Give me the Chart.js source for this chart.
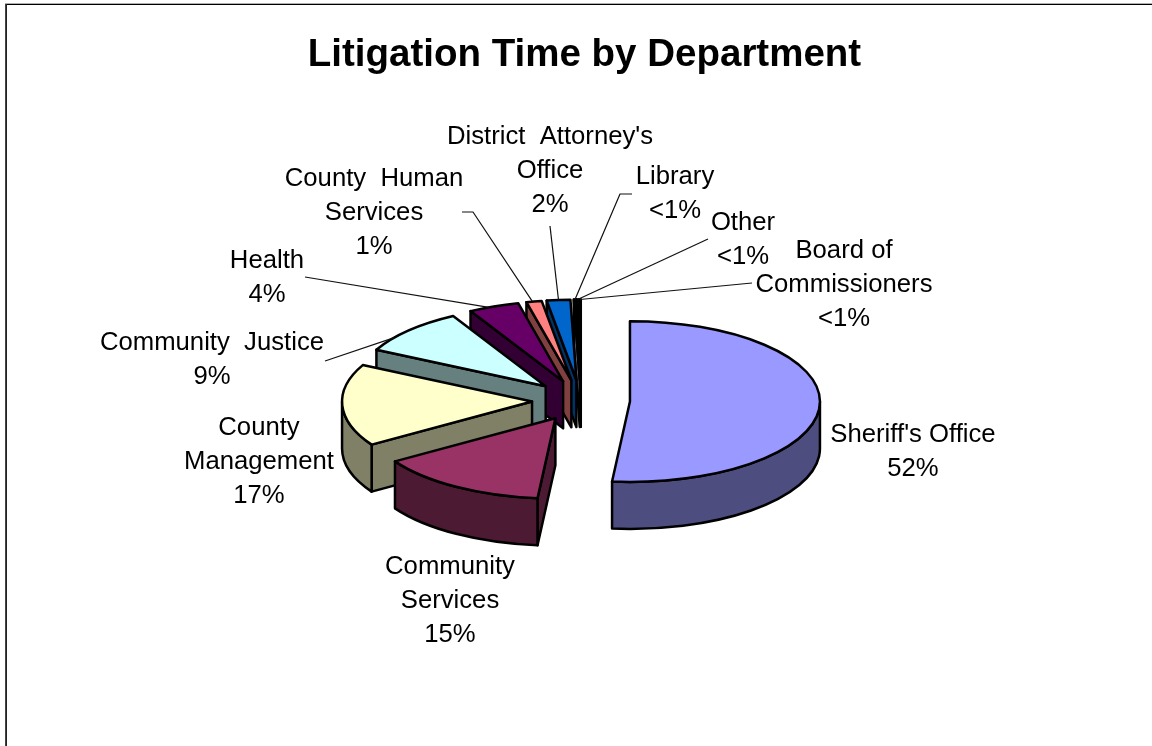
<!DOCTYPE html>
<html>
<head>
<meta charset="utf-8">
<title>Litigation Time by Department</title>
<script src="https://cdn.jsdelivr.net/npm/chart.js@4"></script>
<style>
html, body { margin: 0; padding: 0; background: #fff; overflow: hidden; }
canvas { display: block; }
</style>
</head>
<body>
<canvas id="pieChart" width="1152" height="746"></canvas>
<script>
var departments = ['Sheriff\'s Office', 'Community Services', 'County Management', 'Community Justice', 'Health', 'County Human Services', 'District Attorney\'s Office', 'Library', 'Other', 'Board of Commissioners'];
var shares = [51.5, 14.5, 16.5, 9.4, 4.3, 1.3, 2.0, 0.2, 0.15, 0.15];
var shareLabels = ['52%', '15%', '17%', '9%', '4%', '1%', '2%', '<1%', '<1%', '<1%'];
var topColors = ['#9999ff', '#993366', '#ffffcc', '#ccffff', '#660066', '#ff8080', '#0066cc', '#ccccff', '#000080', '#ff00ff'];
var sideColors = ['#4d4d80', '#4d1a33', '#808066', '#668080', '#330033', '#804040', '#003366', '#666680', '#000040', '#800080'];

// how each department name wraps on the page
var nameLines = [['Sheriff\'s Office'], ['Community', 'Services'], ['County', 'Management'], ['Community  Justice'], ['Health'], ['County  Human', 'Services'], ['District  Attorney\'s', 'Office'], ['Library'], ['Other'], ['Board of', 'Commissioners']];
var labelCenters = [913, 450, 259, 212, 267, 374, 550, 675, 743, 844];
var labelBaselines = [442, 574, 435, 350, 268, 186, 144, 184, 230, 258];
// where the leader leaves each label, null when there is none
var leaderStarts = [null, null, null, [[325, 361]], [[305, 277]], [[462, 212], [473, 212]], [[550, 226]], [[632, 194], [620, 194]], [[708, 239]], [[752, 283]]];
// where it lands along the rim of the slice, 0 = start of the slice, 1 = end
var leaderAt = [0, 0, 0, 0.3, 0.4, 0.4, 0.5, 0.5, 0.5, 0.5];

var pieShiftX = -3.5;
var explode = 49;
var squash = 0.423;
var depth = 47;

function apexOf(arc) {
    var mid = (arc.startAngle + arc.endAngle) / 2;
    return {
        x: arc.x + pieShiftX + Math.cos(mid) * explode,
        y: arc.y + Math.sin(mid) * explode * squash
    };
}

function drawQuad(ctx, apex, arc, angle, fill) {
    var px = apex.x + Math.cos(angle) * arc.outerRadius;
    var py = apex.y + Math.sin(angle) * arc.outerRadius * squash;
    ctx.beginPath();
    ctx.moveTo(apex.x, apex.y);
    ctx.lineTo(px, py);
    ctx.lineTo(px, py + depth);
    ctx.lineTo(apex.x, apex.y + depth);
    ctx.closePath();
    ctx.fillStyle = fill;
    ctx.fill();
    ctx.stroke();
}

function drawSlice(ctx, arc, i) {
    var apex = apexOf(arc);
    var r = arc.outerRadius;
    var a = arc.startAngle;
    var b = arc.endAngle;

    ctx.lineWidth = 2.5;
    ctx.lineJoin = 'round';
    ctx.strokeStyle = '#000';

    if (Math.cos(a) < 0) drawQuad(ctx, apex, arc, a, sideColors[i]);
    if (Math.cos(b) > 0) drawQuad(ctx, apex, arc, b, sideColors[i]);

    // curved wall, only the part that faces the viewer
    var from = Math.max(a, 0);
    var to = Math.min(b, Math.PI);
    if (to > from) {
        ctx.beginPath();
        ctx.ellipse(apex.x, apex.y, r, r * squash, 0, from, to);
        ctx.ellipse(apex.x, apex.y + depth, r, r * squash, 0, to, from, true);
        ctx.closePath();
        ctx.fillStyle = sideColors[i];
        ctx.fill();
        ctx.stroke();
    }

    // top face goes through the arc element, squeezed into an ellipse
    ctx.save();
    ctx.translate(apex.x, apex.y);
    ctx.scale(1, squash);
    ctx.translate(-arc.x, -arc.y);
    arc.draw(ctx);
    ctx.restore();

    ctx.beginPath();
    ctx.moveTo(apex.x, apex.y);
    ctx.ellipse(apex.x, apex.y, r, r * squash, 0, a, b);
    ctx.closePath();
    ctx.stroke();
}

function drawLabels(chart) {
    var ctx = chart.ctx;
    var arcs = chart.getDatasetMeta(0).data;
    ctx.save();
    ctx.font = '25.7px "Liberation Sans"';
    ctx.textAlign = 'center';
    ctx.fillStyle = '#000';
    ctx.strokeStyle = '#111';
    ctx.lineWidth = 1.2;
    departments.forEach(function(name, i) {
        var lines = nameLines[i].concat([shareLabels[i]]);
        lines.forEach(function(line, n) {
            ctx.fillText(line, labelCenters[i], labelBaselines[i] + n * 34);
        });
        if (!leaderStarts[i]) return;
        var arc = arcs[i];
        var apex = apexOf(arc);
        var at = arc.startAngle + (arc.endAngle - arc.startAngle) * leaderAt[i];
        ctx.beginPath();
        leaderStarts[i].forEach(function(p, n) {
            if (n === 0) ctx.moveTo(p[0], p[1]);
            else ctx.lineTo(p[0], p[1]);
        });
        ctx.lineTo(apex.x + Math.cos(at) * arc.outerRadius, apex.y + Math.sin(at) * arc.outerRadius * squash);
        ctx.stroke();
    });
    ctx.restore();
}

var explodedPie = {
    id: 'explodedPie',
    beforeDraw: function(chart) {
        var ctx = chart.ctx;
        // chart frame, open on the right and at the bottom
        ctx.fillStyle = '#b0b0b0';
        ctx.fillRect(5, 3, 1147, 1);
        ctx.fillStyle = '#000';
        ctx.fillRect(6, 4, 1146, 1);
        ctx.fillStyle = '#444';
        ctx.fillRect(5, 4, 1, 742);
        ctx.fillStyle = '#222';
        ctx.fillRect(6, 4, 1, 742);
    },
    beforeDatasetsDraw: function(chart) {
        var arcs = chart.getDatasetMeta(0).data;
        for (var i = arcs.length - 1; i >= 0; i--) {
            drawSlice(chart.ctx, arcs[i], i);
        }
        return false;
    },
    afterDraw: drawLabels
};

var ctx = document.getElementById('pieChart').getContext('2d');
var chart = new Chart(ctx, {
    type: 'pie',
    data: {
        labels: departments,
        datasets: [{
            data: shares,
            backgroundColor: topColors,
            borderWidth: 0
        }]
    },
    options: {
        responsive: false,
        animation: false,
        radius: 190,
        layout: {
            padding: { left: 17, right: 0, top: 0, bottom: 23 }
        },
        plugins: {
            legend: { display: false },
            tooltip: { enabled: false },
            title: {
                display: true,
                text: 'Litigation Time by Department',
                color: '#000',
                font: { family: '"Liberation Sans"', size: 38.5, weight: 'bold' },
                padding: { top: 32, bottom: 0 }
            }
        }
    },
    plugins: [explodedPie]
});
</script>
</body>
</html>
